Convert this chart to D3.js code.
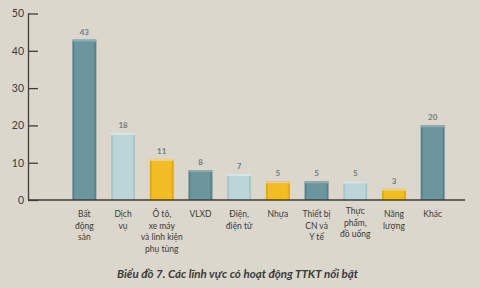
<!DOCTYPE html>
<html>
<head>
<meta charset="utf-8">
<script src="https://cdn.jsdelivr.net/npm/d3@7"></script>
<style>
  body { margin: 0; background: #dcd7cc; }
  svg { display: block; background: #dcd7cc; font-family: Lato, "Open Sans", sans-serif; }
</style>
</head>
<body>
<svg width="480" height="288"></svg>
<script>
var categories = [
  ["Bất", "động", "sản"],
  ["Dịch", "vụ"],
  ["Ô tô,", "xe máy", "và linh kiện", "phụ tùng"],
  ["VLXD"],
  ["Điện,", "điện tử"],
  ["Nhựa"],
  ["Thiết bị", "CN và", "Y tế"],
  ["Thực", "phẩm,", "đồ uống"],
  ["Năng", "lượng"],
  ["Khác"]
];
var values = [43, 18, 11, 8, 7, 5, 5, 5, 3, 20];
var kinds = ["dark", "light", "yellow", "dark", "light", "yellow", "dark", "light", "yellow", "dark"];
var yTicks = [0, 10, 20, 30, 40, 50];
var title = "Biểu đồ 7. Các lĩnh vực có hoạt động TTKT nổi bật";

var svg = d3.select("svg");

var fills = {dark: "#6d959e", light: "#bcd5d8", yellow: "#f2bd22"};
var caps = {dark: "#8aafb6", light: "#d6e7e9", yellow: "#f8d263"};
var sides = {dark: "#5a818a", light: "#a9c6ca", yellow: "#e3aa12"};

var x = d3.scaleBand()
    .domain(d3.range(values.length))
    .range([65, 452])
    .paddingInner(0.38)
    .paddingOuter(0.19);

var y = d3.scaleLinear().domain([0, 50]).range([200, 13.5]);

// y axis
var yAxis = svg.append("g")
    .attr("transform", "translate(28,0)")
    .call(d3.axisRight(y).tickValues(yTicks).tickSize(10).tickFormat(d3.format("d")));
yAxis.select(".domain").remove();
yAxis.selectAll(".tick line").attr("stroke", "#3d3d3d").attr("stroke-width", 1.3);
yAxis.selectAll(".tick text")
    .attr("x", -4)
    .attr("text-anchor", "end")
    .attr("fill", "#3a3a3a")
    .attr("font-size", 10.5)
    .attr("font-family", "Lato, sans-serif");

svg.append("line")
    .attr("x1", 28.5).attr("x2", 28.5)
    .attr("y1", y(50)).attr("y2", y(0))
    .attr("stroke", "#3d3d3d").attr("stroke-width", 1.3);

// bars
var bars = svg.selectAll(".bar")
    .data(values)
  .enter().append("g")
    .attr("class", "bar");

bars.append("rect")
    .attr("x", function(d, i) { return x(i); })
    .attr("y", function(d) { return y(d); })
    .attr("width", x.bandwidth())
    .attr("height", function(d) { return y(0) - y(d); })
    .attr("fill", function(d, i) { return sides[kinds[i]]; });

bars.append("rect")
    .attr("x", function(d, i) { return x(i) + 2; })
    .attr("y", function(d) { return y(d) + 2; })
    .attr("width", x.bandwidth() - 4)
    .attr("height", function(d) { return y(0) - y(d) - 2; })
    .attr("fill", function(d, i) { return fills[kinds[i]]; });

bars.append("rect")
    .attr("x", function(d, i) { return x(i); })
    .attr("y", function(d) { return y(d); })
    .attr("width", x.bandwidth())
    .attr("height", 2)
    .attr("fill", function(d, i) { return caps[kinds[i]]; });

bars.append("text")
    .attr("x", function(d, i) { return x(i) + x.bandwidth() / 2; })
    .attr("y", function(d) { return y(d) - 5; })
    .attr("text-anchor", "middle")
    .attr("font-size", 8)
    .attr("font-weight", "bold")
    .attr("fill", "#6f7c80")
    .text(function(d) { return d; });

// x axis line
svg.append("line")
    .attr("x1", 28).attr("x2", 465)
    .attr("y1", 200).attr("y2", 200)
    .attr("stroke", "#3d3d3d").attr("stroke-width", 1.3);

// category labels
var labels = svg.selectAll(".cat")
    .data(categories)
  .enter().append("text")
    .attr("class", "cat")
    .attr("text-anchor", "middle")
    .attr("font-size", 8.5)
    .attr("fill", "#3a3a3a")
    .attr("transform", function(d, i) { return "translate(" + (x(i) + x.bandwidth() / 2) + "," + (i == 7 ? 211 : 214) + ")"; });

labels.selectAll("tspan")
    .data(function(d) { return d; })
  .enter().append("tspan")
    .attr("x", 0)
    .attr("dy", function(d, j) { return j == 0 ? "0.35em" : 11.7; })
    .text(function(d) { return d; });

svg.append("text")
    .attr("x", 117)
    .attr("y", 278)
    .attr("font-size", 11)
    .attr("font-weight", "bold")
    .attr("font-style", "italic")
    .attr("fill", "#3a3a3a")
    .attr("textLength", 241)
    .attr("lengthAdjust", "spacingAndGlyphs")
    .text(title);
</script>
</body>
</html>
